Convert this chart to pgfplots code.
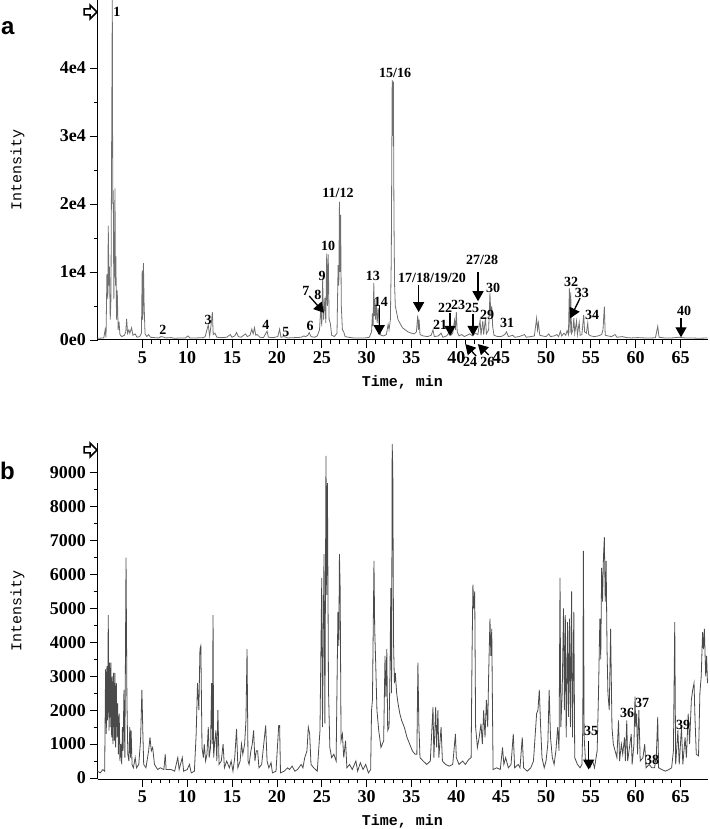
\documentclass[border=0pt]{standalone}
\usepackage{fontspec}
\setmainfont{Liberation Serif}
\newfontfamily\monofont{Liberation Mono}
\newfontfamily\arialfont{Liberation Sans}
\usepackage{pgfplots}
\pgfplotsset{compat=1.18}
\usetikzlibrary{arrows.meta}
\definecolor{traceA}{HTML}{707070}
\definecolor{traceB}{HTML}{4A4A4A}

\pgfplotsset{
  chrom/.style={
    scale only axis, width=610pt,
    xmin=0, xmax=68,
    axis lines=left, axis line style={-, line width=1pt},
    tick align=outside, major tick length=8pt, minor tick length=4pt,
    tick style={line width=0.8pt, black},
    xtick={5,10,...,65}, xticklabels={5,10,15,20,25,30,35,40,45,50,55,60,65},
    minor x tick num=4,
    minor y tick num=1,
    tick label style={font=\bfseries\fontsize{18}{18}\selectfont},
    xlabel={\monofont\bfseries Time, min},
    ylabel={\monofont Intensity},
    label style={font=\fontsize{15}{15}\selectfont},
    x label style={anchor=center},
    y label style={anchor=center},
    clip=false,
  },
}
\tikzset{
  plab/.style={font=\bfseries\fontsize{14}{14}\selectfont, inner sep=0pt},
  parr/.style={-{Triangle[length=10pt,width=11pt]}, line width=1.3pt},
}

\begin{document}
\begin{tikzpicture}[x=1pt,y=1pt]
\useasboundingbox (0,0) rectangle (709,829);

% panel a
\begin{axis}[chrom, at={(97.5pt,489pt)}, anchor=south west, height=340pt,
  ymin=0, ymax=50000,
  ytick={0,10000,20000,30000,40000}, yticklabels={0e0,1e4,2e4,3e4,4e4},
  x label style={at={(axis description cs:0.5,-0.126)}},
  y label style={at={(axis description cs:-0.131,0.5)}},
  restrict y to domain*=0:50000]
\addplot[color=traceA, line width=0.8pt] coordinates {
(0,250) (0.7,300) (0.85,1500) (0.95,400) (1.05,9700) (1.15,6000) (1.2,16800)
(1.28,8000) (1.33,10800) (1.42,3000) (1.5,6000) (1.58,30000) (1.65,52000)
(1.7,20000) (1.76,22000) (1.82,6000) (1.9,14000) (1.95,22300) (2.0,8000)
(2.05,12300) (2.12,3000) (2.2,7300) (2.3,1500) (2.4,2700) (2.5,800) (2.7,500)
(3.0,700) (3.15,1200) (3.25,3100) (3.35,1000) (3.5,1500) (3.6,1000) (3.8,1800)
(3.95,700) (4.2,900) (4.4,400) (4.7,500) (4.9,1000) (4.98,10200) (5.05,3000)
(5.12,11300) (5.2,5000) (5.3,900) (5.5,500) (5.7,800) (5.9,400) (6.3,350)
(6.8,300) (7.1,500) (7.3,450) (7.6,300) (8.2,350) (8.6,250) (9.2,300) (9.8,300)
(10.1,600) (10.3,300) (11,300) (11.8,350) (12.0,500) (12.2,1500) (12.35,2200)
(12.5,600) (12.7,2600) (12.8,4100) (12.9,800) (13.1,1000) (13.3,400) (13.8,350)
(14.4,400) (14.8,800) (15.0,400) (15.3,600) (15.5,1100) (15.7,500) (16.0,400)
(16.3,700) (16.5,900) (16.7,500) (17.0,700) (17.2,1600) (17.35,900) (17.5,1800)
(17.65,700) (17.8,800) (18.1,400) (18.5,350) (18.9,1300) (19.05,400) (19.6,350)
(20.1,500) (20.3,1600) (20.45,400) (20.8,500) (21.2,300) (22,350) (22.7,400)
(23.0,600) (23.2,500) (23.45,700) (23.6,1100) (23.8,500) (24.2,400) (24.5,600)
(24.75,1500) (24.9,5000) (25.0,2000) (25.1,8800) (25.2,3000) (25.35,6200)
(25.45,2500) (25.55,12700) (25.63,5000) (25.72,12600) (25.82,3000) (25.95,2500)
(26.1,700) (26.4,500) (26.7,1000) (26.82,11000) (26.9,8000) (26.97,20300)
(27.04,10000) (27.1,18400) (27.18,5000) (27.3,1500) (27.45,1200) (27.6,500)
(28,400) (28.5,300) (29.2,300) (29.8,300) (30.3,400) (30.55,1200) (30.65,3900)
(30.72,2000) (30.8,8400) (30.86,3500) (30.93,6000) (31.0,3000) (31.1,5200)
(31.18,2500) (31.3,4700) (31.4,1500) (31.6,700) (31.9,600) (32.2,800) (32.4,2300)
(32.5,1500) (32.65,3000) (32.75,12200) (32.85,38200) (32.92,30000) (32.98,38000)
(33.05,17900) (33.12,8000) (33.2,5000) (33.35,4000) (33.5,3000) (33.7,2500)
(34.0,1800) (34.3,1500) (34.6,1200) (35.0,1000) (35.3,900) (35.55,1200)
(35.7,3600) (35.78,1500) (35.85,3000) (35.95,800) (36.3,600) (36.8,500)
(37.2,700) (37.4,1500) (37.55,500) (38.0,600) (38.3,1000) (38.5,400) (38.9,600)
(39.1,900) (39.3,2600) (39.4,700) (39.6,1000) (39.8,2900) (39.9,1500)
(40.0,4100) (40.1,1200) (40.3,600) (40.6,800) (40.9,500) (41.2,700) (41.5,900)
(41.8,600) (42.1,1000) (42.4,800) (42.65,2900) (42.75,700) (42.95,2800)
(43.05,800) (43.25,3300) (43.35,900) (43.6,1500) (43.75,6900) (43.85,3500)
(43.95,5000) (44.05,2000) (44.2,700) (44.6,500) (45.0,500) (45.4,800)
(45.6,1200) (45.8,500) (46.3,700) (46.5,400) (47.0,500) (47.4,700) (47.6,800)
(47.8,400) (48.3,500) (48.7,600) (48.95,3200) (49.05,1500) (49.15,2500)
(49.3,700) (49.6,600) (50.0,500) (50.3,900) (50.5,500) (50.9,600) (51.2,800)
(51.4,500) (51.6,1300) (51.75,600) (52.0,1000) (52.2,700) (52.35,1400)
(52.5,800) (52.6,7600) (52.68,1000) (52.75,7000) (52.85,1000) (53.0,1500)
(53.1,3200) (53.2,1000) (53.4,2800) (53.5,800) (53.7,2600) (53.8,700) (54.0,800)
(54.2,3700) (54.3,1200) (54.5,1000) (54.65,2500) (54.75,800) (55.0,600)
(55.4,500) (55.8,600) (56.2,800) (56.35,1500) (56.5,4900) (56.6,700) (56.9,600)
(57.3,500) (57.7,800) (57.9,400) (58.5,500) (59,350) (59.5,300) (60.2,350)
(61,300) (61.8,300) (62.2,350) (62.45,2000) (62.6,400) (63.2,300) (64,300)
(64.8,400) (65.5,300) (66.3,300) (67,250) (68,300)
};
% peak labels
\node[plab] at (axis cs:2.17,48300) {1};
\node[plab] at (axis cs:7.3,1470) {2};
\node[plab] at (axis cs:12.32,2940) {3};
\node[plab] at (axis cs:18.78,2200) {4};
\node[plab] at (axis cs:21.0,1180) {5};
\node[plab] at (axis cs:23.69,2060) {6};
\node[plab] at (axis cs:23.24,7200) {7};
\node[plab] at (axis cs:24.58,6620) {8};
\node[plab] at (axis cs:25.03,9410) {9};
\node[plab] at (axis cs:25.7,13820) {10};
\node[plab] at (axis cs:26.81,21620) {11/12};
\node[plab] at (axis cs:30.71,9410) {13};
\node[plab] at (axis cs:31.6,5590) {14};
\node[plab] at (axis cs:33.17,39260) {15/16};
\node[plab] at (axis cs:37.29,9120) {17/18/19/20};
\node[plab] at (axis cs:38.2,2200) {21};
\node[plab] at (axis cs:38.74,4710) {22};
\node[plab] at (axis cs:40.19,5150) {23};
\node[plab] at (axis cs:41.75,4710) {25};
\node[plab] at (axis cs:42.87,11760) {27/28};
\node[plab] at (axis cs:43.42,3680) {29};
\node[plab] at (axis cs:44.09,7650) {30};
\node[plab] at (axis cs:45.65,2500) {31};
\node[plab] at (axis cs:52.79,8530) {32};
\node[plab] at (axis cs:54.0,6910) {33};
\node[plab] at (axis cs:55.13,3680) {34};
\node[plab] at (axis cs:65.38,4260) {40};
\node[plab] at (axis cs:41.53,-3240) {24};
\node[plab] at (axis cs:43.45,-3240) {26};
% arrows
\draw[parr] (axis cs:23.6,6470) -- (axis cs:25.25,4000);
\draw[parr] (axis cs:31.4,5150) -- (axis cs:31.4,700);
\draw[parr] (axis cs:35.8,8100) -- (axis cs:35.8,4100);
\draw[parr] (axis cs:39.3,3970) -- (axis cs:39.3,600);
\draw[parr] (axis cs:41.86,3820) -- (axis cs:41.86,600);
\draw[parr] (axis cs:42.42,10000) -- (axis cs:42.42,5700);
\draw[parr] (axis cs:53.8,6180) -- (axis cs:52.7,3200);
\draw[parr] (axis cs:65.05,3240) -- (axis cs:65.05,400);
\draw[parr] (axis cs:42.2,-2350) -- (axis cs:41.0,-600);
\draw[parr] (axis cs:43.6,-2200) -- (axis cs:42.4,-600);
\end{axis}

% panel b
\begin{axis}[chrom, at={(97.5pt,50pt)}, anchor=south west, height=336pt,
  ymin=-30, ymax=9880,
  ytick={0,1000,...,9000}, yticklabels={0,1000,2000,3000,4000,5000,6000,7000,8000,9000},
  x label style={at={(axis description cs:0.5,-0.125)}},
  y label style={at={(axis description cs:-0.131,0.5)}}]
\addplot[color=traceB, line width=0.8pt] coordinates {
(0,200) (0.3,150) (0.6,250) (0.8,200) (0.9,3200) (0.98,1300) (1.05,3300)
(1.12,1700) (1.2,4800) (1.28,1400) (1.35,3400) (1.42,1500) (1.5,3400) (1.58,1200)
(1.65,3000) (1.72,1000) (1.8,3100) (1.88,1100) (1.95,3100) (2.02,900) (2.1,2800)
(2.18,1200) (2.25,2200) (2.33,700) (2.42,1900) (2.5,500) (2.6,1000) (2.7,400)
(2.78,1500) (2.85,800) (2.95,2600) (3.05,600) (3.18,6500) (3.28,2300) (3.38,700)
(3.5,500) (3.6,1500) (3.68,600) (3.75,1400) (3.85,400) (4.0,300) (4.2,600)
(4.35,300) (4.6,400) (4.8,1100) (4.95,2600) (5.05,1400) (5.15,400) (5.4,300)
(5.7,800) (5.85,1200) (6.0,800) (6.15,900) (6.35,400) (6.7,250) (7.0,300)
(7.4,250) (7.55,700) (7.65,250) (8.2,250) (8.6,200) (8.95,600) (9.1,250)
(9.45,600) (9.6,200) (10.0,250) (10.25,400) (10.45,150) (10.8,200) (11.0,1300)
(11.15,2800) (11.3,2000) (11.42,3800) (11.52,3900) (11.65,900) (11.8,600)
(11.9,1000) (12.05,500) (12.2,700) (12.35,1500) (12.45,600) (12.6,900)
(12.72,2800) (12.8,1000) (12.88,4800) (12.95,600) (13.05,1000) (13.2,1400)
(13.3,500) (13.42,2000) (13.55,400) (13.8,500) (14.0,1000) (14.15,300)
(14.4,500) (14.7,300) (14.9,500) (15.1,200) (15.3,600) (15.5,1450) (15.65,300)
(15.9,500) (16.05,1000) (16.2,700) (16.4,1000) (16.55,1700) (16.67,3800)
(16.78,500) (16.9,400) (17.1,800) (17.25,1000) (17.4,1400) (17.55,500)
(17.7,800) (17.85,800) (18.0,300) (18.3,400) (18.65,1300) (18.75,1550)
(18.9,500) (19.1,300) (19.35,450) (19.5,150) (19.9,200) (20.2,1550) (20.3,1550)
(20.4,150) (20.8,200) (21.2,300) (21.4,250) (21.7,350) (22.0,200) (22.3,250)
(22.7,400) (22.9,300) (23.1,600) (23.35,800) (23.5,1500) (23.65,1300) (23.8,400)
(24.1,300) (24.5,200) (24.8,1400) (25.0,5900) (25.08,1500) (25.25,6600)
(25.35,1600) (25.47,9500) (25.55,5400) (25.63,8700) (25.75,2600) (25.9,900)
(26.1,600) (26.35,700) (26.6,500) (26.8,4900) (26.9,3900) (26.97,6600)
(27.05,5600) (27.15,1100) (27.3,1300) (27.45,600) (27.65,1100) (27.8,300)
(28.1,400) (28.4,250) (28.8,500) (29.0,200) (29.3,450) (29.6,250) (29.9,400)
(30.2,150) (30.45,250) (30.55,2000) (30.65,2300) (30.75,4700) (30.82,6400)
(30.9,4400) (31.0,3500) (31.15,2000) (31.35,1400) (31.6,900) (31.9,1100)
(32.05,3600) (32.15,2400) (32.25,3800) (32.35,1400) (32.5,1500) (32.6,3000)
(32.7,5600) (32.78,2500) (32.85,9850) (32.92,9100) (33.0,4000) (33.1,2800)
(33.2,3100) (33.35,2500) (33.5,2200) (33.7,1900) (33.9,1700) (34.2,1500)
(34.5,1200) (34.8,1000) (35.1,800) (35.4,700) (35.6,700) (35.72,3400)
(35.82,1600) (35.95,600) (36.3,500) (36.7,400) (37.1,500) (37.4,2100) (37.5,600)
(37.7,2100) (37.8,900) (37.95,2000) (38.05,600) (38.3,1500) (38.45,500)
(38.8,400) (39.2,350) (39.6,400) (39.9,1300) (40.0,600) (40.3,400) (40.7,500)
(41.0,400) (41.4,550) (41.65,600) (41.75,3600) (41.85,5700) (41.95,5000)
(42.05,5500) (42.15,1500) (42.35,900) (42.55,1200) (42.75,1600) (42.9,1000)
(43.05,2000) (43.2,1200) (43.35,2300) (43.5,1500) (43.6,3000) (43.75,4700)
(43.85,3600) (43.95,4400) (44.05,1500) (44.1,250) (44.5,300) (44.9,250)
(45.15,900) (45.3,400) (45.5,600) (45.8,300) (46.1,400) (46.35,1300) (46.5,300)
(46.9,400) (47.1,300) (47.35,1200) (47.5,300) (47.9,200) (48.3,300) (48.6,500)
(48.8,1300) (48.95,1900) (49.1,2000) (49.25,2600) (49.4,1500) (49.55,600)
(49.8,300) (50.0,500) (50.2,1000) (50.35,2600) (50.5,1200) (50.7,600) (50.9,400)
(51.1,800) (51.3,1500) (51.45,800) (51.56,5900) (51.65,1500) (51.8,2500)
(51.95,5000) (52.05,2000) (52.15,4800) (52.25,1200) (52.4,4600) (52.5,1800)
(52.62,4700) (52.72,1500) (52.85,5500) (52.95,1200) (53.1,4900) (53.2,600)
(53.5,400) (53.8,300) (54.0,400) (54.1,1500) (54.16,6700) (54.25,1200)
(54.4,500) (54.6,400) (54.9,300) (55.2,500) (55.4,300) (55.7,800) (55.85,2500)
(56.0,4700) (56.1,3500) (56.2,6200) (56.3,5200) (56.4,6500) (56.5,7100)
(56.6,5200) (56.7,6400) (56.8,3800) (56.9,2500) (57.05,2000) (57.2,4400)
(57.35,1500) (57.5,1000) (57.7,800) (57.9,600) (58.08,1700) (58.2,500)
(58.4,1000) (58.55,700) (58.75,1200) (58.85,500) (59.0,1700) (59.1,500)
(59.3,900) (59.5,1300) (59.6,400) (59.8,1000) (59.92,2400) (60.0,1500)
(60.1,1900) (60.2,700) (60.35,2000) (60.5,500) (60.8,600) (61.0,1000)
(61.15,300) (61.5,400) (61.8,300) (62.1,300) (62.3,700) (62.45,1800)
(62.55,300) (62.9,250) (63.3,200) (63.7,250) (64.0,300) (64.2,800) (64.35,4600)
(64.45,400) (64.7,1400) (64.85,400) (65.1,1500) (65.25,400) (65.5,1200)
(65.65,600) (65.85,1900) (66.0,1000) (66.2,2300) (66.35,2600) (66.5,2800)
(66.6,1800) (66.75,700) (67.0,650) (67.15,2500) (67.3,3000) (67.45,4300)
(67.55,3800) (67.65,4400) (67.8,3000) (67.9,3600) (68.0,2800)
};
\node[plab] at (axis cs:55.02,1390) {35};
\node[plab] at (axis cs:59.03,1920) {36};
\node[plab] at (axis cs:60.7,2210) {37};
\node[plab] at (axis cs:61.82,530) {38};
\node[plab] at (axis cs:65.27,1560) {39};
\draw[parr] (axis cs:54.75,1100) -- (axis cs:54.75,250);
\end{axis}

% off-scale markers and panel letters
\draw[line width=1.5pt, line join=miter] (84,814) -- (90,814) -- (90,810) -- (97,817) -- (90,824) -- (90,820) -- (84,820) -- cycle;
\draw[line width=1.5pt, line join=miter] (84,376) -- (90,376) -- (90,372) -- (97,379) -- (90,386) -- (90,382) -- (84,382) -- cycle;
\node[font=\arialfont\bfseries\fontsize{24}{24}\selectfont, anchor=base west, inner sep=0pt] at (1,794) {a};
\node[font=\arialfont\bfseries\fontsize{24}{24}\selectfont, anchor=base west, inner sep=0pt] at (0,349) {b};
\end{tikzpicture}
\end{document}
